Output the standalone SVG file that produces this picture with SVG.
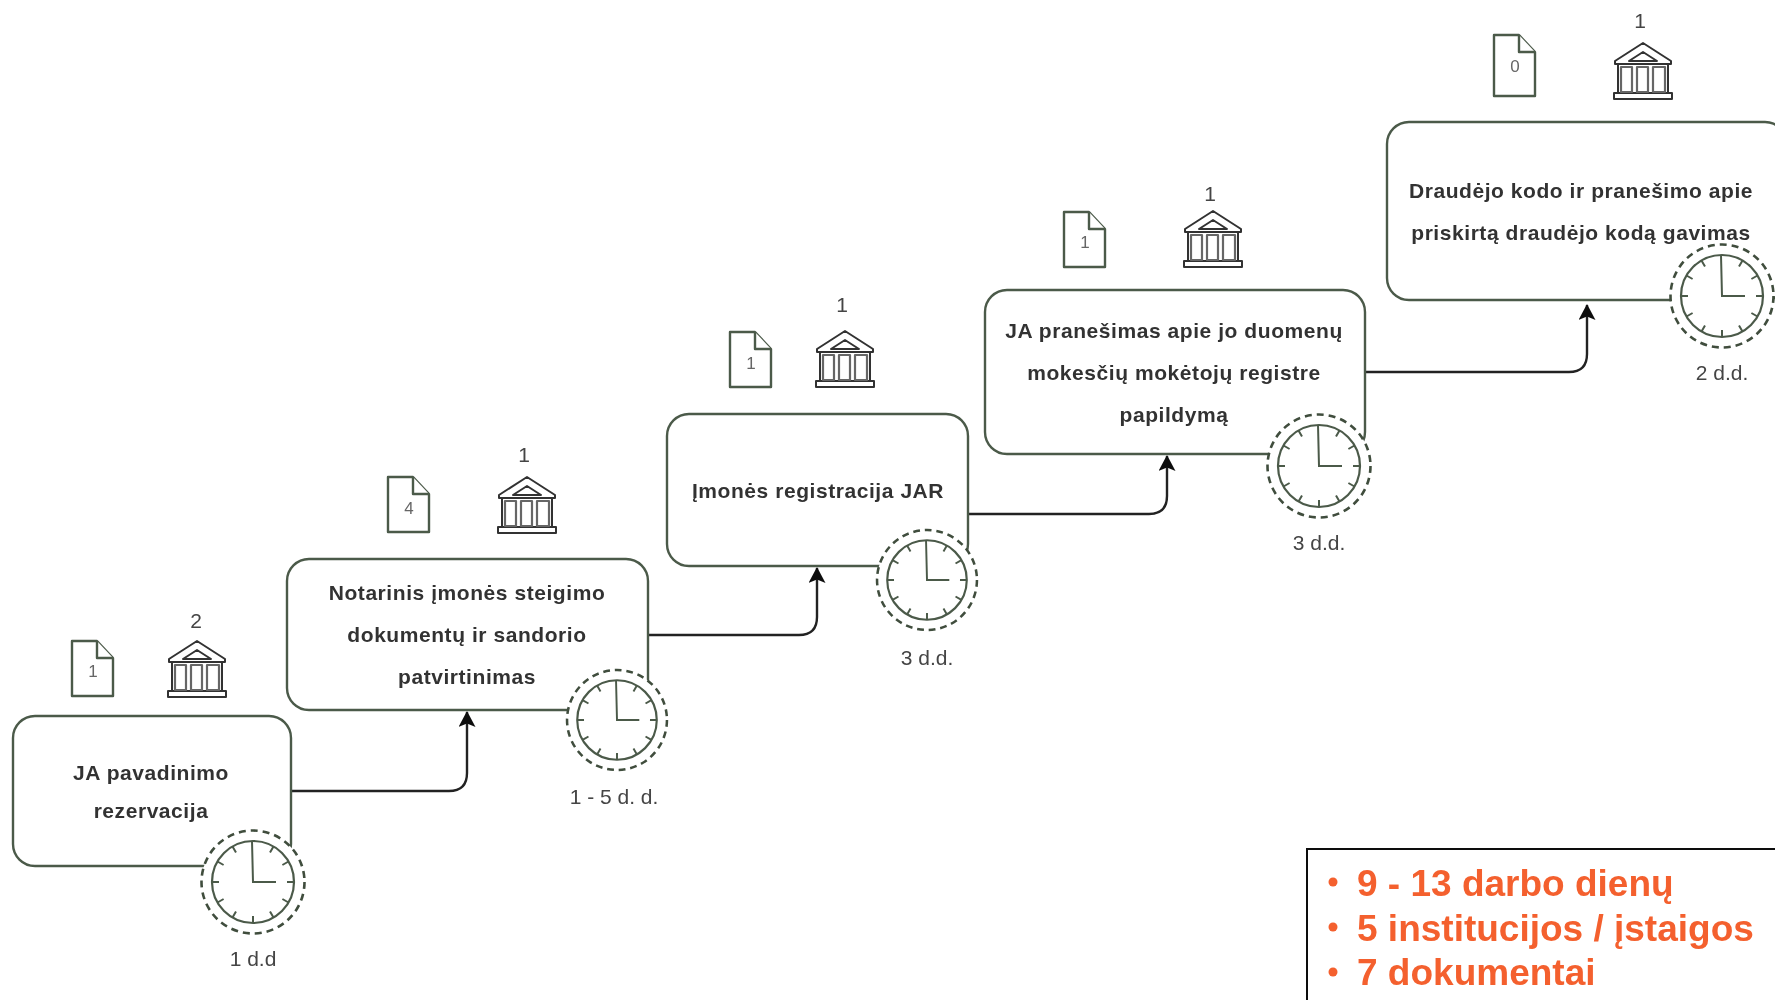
<svg xmlns="http://www.w3.org/2000/svg" width="1775" height="1000" viewBox="0 0 1775 1000">
<style>
text{font-family:"Liberation Sans",Arial,sans-serif;fill:#333;text-anchor:middle}
.box{fill:#fff;stroke:#4c5a4a;stroke-width:2.4}
.t{font-size:21px;font-weight:bold;letter-spacing:.56px}
.l{font-size:21px;fill:#444}
.n{font-size:17px;fill:#666}
.c{fill:none;stroke:#222;stroke-width:2.4}
.d{fill:#fff;stroke:#4c5a4a;stroke-width:2.4;stroke-linejoin:round}
.o{font-size:37px;font-weight:bold;fill:#f4602e;text-anchor:start}
</style>
<defs>
<filter id="soft" x="0" y="0" width="100%" height="100%" filterUnits="userSpaceOnUse"><feGaussianBlur stdDeviation="0.45"/></filter>
<marker id="a" markerWidth="18" markerHeight="18" refX="15" refY="8.500" orient="auto" markerUnits="userSpaceOnUse"><path d="M0 0L16 8.500L0 17L3.500 8.500Z" fill="#111"/></marker>
<g id="doc"><path class="d" d="M0 0H25L41 17V55H0Z"/><path class="d" d="M25 0V17H41" fill="none"/></g>
<g id="bank" fill="none" stroke="#333" stroke-width="2" stroke-linejoin="round">
<path d="M1 18L29 0L57 18V21H1ZM15 18L29 9L43 18Z"/>
<path d="M4 21V50M54 21V50M0 56V50H58V56Z"/>
<path d="M7 24H18V49H7ZM23 24H34V49H23ZM39 24H51V49H39Z" stroke="#666" stroke-width="2.2"/>
</g>
<g id="clock">
<circle r="51.500" fill="#fff" stroke="#3f4d3d" stroke-width="2.6" stroke-dasharray="7 5"/>
<circle r="41" fill="#fff" stroke="#4c5a4a" stroke-width="2.2"/>
<path d="M-1 -41L0 0H23M0 41V34M-41 0H-34M41 0H34M20.500 -35.500L17 -29.400M35.500 -20.500L29.400 -17M35.500 20.500L29.400 17M20.500 35.500L17 29.400M-20.500 35.500L-17 29.400M-35.500 20.500L-29.400 17M-35.500 -20.500L-29.400 -17M-20.500 -35.500L-17 -29.400" fill="none" stroke="#4c5a4a" stroke-width="2"/>
</g>
</defs>
<g filter="url(#soft)">
<rect width="1775" height="1000" fill="#fff"/>
<g id="connectors">
<path class="c" marker-end="url(#a)" d="M291 791H449Q467 791 467 773V712"/>
<path class="c" marker-end="url(#a)" d="M648 635H799Q817 635 817 617V568"/>
<path class="c" marker-end="url(#a)" d="M968 514H1149Q1167 514 1167 496V456"/>
<path class="c" marker-end="url(#a)" d="M1365 372H1569Q1587 372 1587 354V305"/>
</g>
<g id="node1">
<rect class="box" x="13" y="716" width="278" height="150" rx="22"/>
<text class="t"><tspan x="151" y="780">JA pavadinimo</tspan><tspan x="151" y="818">rezervacija</tspan></text>
<use href="#clock" transform="translate(253 882)"/><text class="l" x="253" y="966">1 d.d</text>
<use href="#doc" x="72" y="641"/><text class="n" x="93" y="677">1</text>
<use href="#bank" x="168" y="641"/><text class="l" x="196" y="628">2</text>
</g>
<g id="node2">
<rect class="box" x="287" y="559" width="361" height="151" rx="22"/>
<text class="t"><tspan x="467" y="600">Notarinis įmonės steigimo</tspan><tspan x="467" y="642">dokumentų ir sandorio</tspan><tspan x="467" y="684">patvirtinimas</tspan></text>
<use href="#clock" transform="translate(617 720) scale(.97)"/><text class="l" x="614" y="804">1 - 5 d. d.</text>
<use href="#doc" x="388" y="477"/><text class="n" x="409" y="514">4</text>
<use href="#bank" x="498" y="477"/><text class="l" x="524" y="462">1</text>
</g>
<g id="node3">
<rect class="box" x="667" y="414" width="301" height="152" rx="22"/>
<text class="t" x="818" y="498">Įmonės registracija JAR</text>
<use href="#clock" transform="translate(927 580) scale(.97)"/><text class="l" x="927" y="665">3 d.d.</text>
<use href="#doc" x="730" y="332"/><text class="n" x="751" y="369">1</text>
<use href="#bank" x="816" y="331"/><text class="l" x="842" y="312">1</text>
</g>
<g id="node4">
<rect class="box" x="985" y="290" width="380" height="164" rx="22"/>
<text class="t"><tspan x="1174" y="338">JA pranešimas apie jo duomenų</tspan><tspan x="1174" y="380">mokesčių mokėtojų registre</tspan><tspan x="1174" y="422">papildymą</tspan></text>
<use href="#clock" transform="translate(1319 466)"/><text class="l" x="1319" y="550">3 d.d.</text>
<use href="#doc" x="1064" y="212"/><text class="n" x="1085" y="248">1</text>
<use href="#bank" x="1184" y="211"/><text class="l" x="1210" y="201">1</text>
</g>
<g id="node5">
<rect class="box" x="1387" y="122" width="400" height="178" rx="22"/>
<text class="t"><tspan x="1581" y="198">Draudėjo kodo ir pranešimo apie</tspan><tspan x="1581" y="240">priskirtą draudėjo kodą gavimas</tspan></text>
<use href="#clock" transform="translate(1722 296)"/><text class="l" x="1722" y="380">2 d.d.</text>
<path class="d" d="M1494 35H1519L1535 52V96H1494Z"/><path class="d" d="M1519 35V52H1535" fill="none"/><text class="n" x="1515" y="72">0</text>
<use href="#bank" x="1614" y="43"/><text class="l" x="1640" y="28">1</text>
</g>
<g id="summary">
<rect x="1307" y="849" width="480" height="170" fill="#fff" stroke="#111" stroke-width="2"/>
<g fill="#f4602e"><circle cx="1333" cy="882" r="4.500"/><circle cx="1333" cy="927" r="4.500"/><circle cx="1333" cy="972" r="4.500"/></g>
<text class="o" x="1357" y="896">9 - 13 darbo dienų</text>
<text class="o" x="1357" y="941">5 institucijos / įstaigos</text>
<text class="o" x="1357" y="985">7 dokumentai</text>
</g>
</g>
</svg>
